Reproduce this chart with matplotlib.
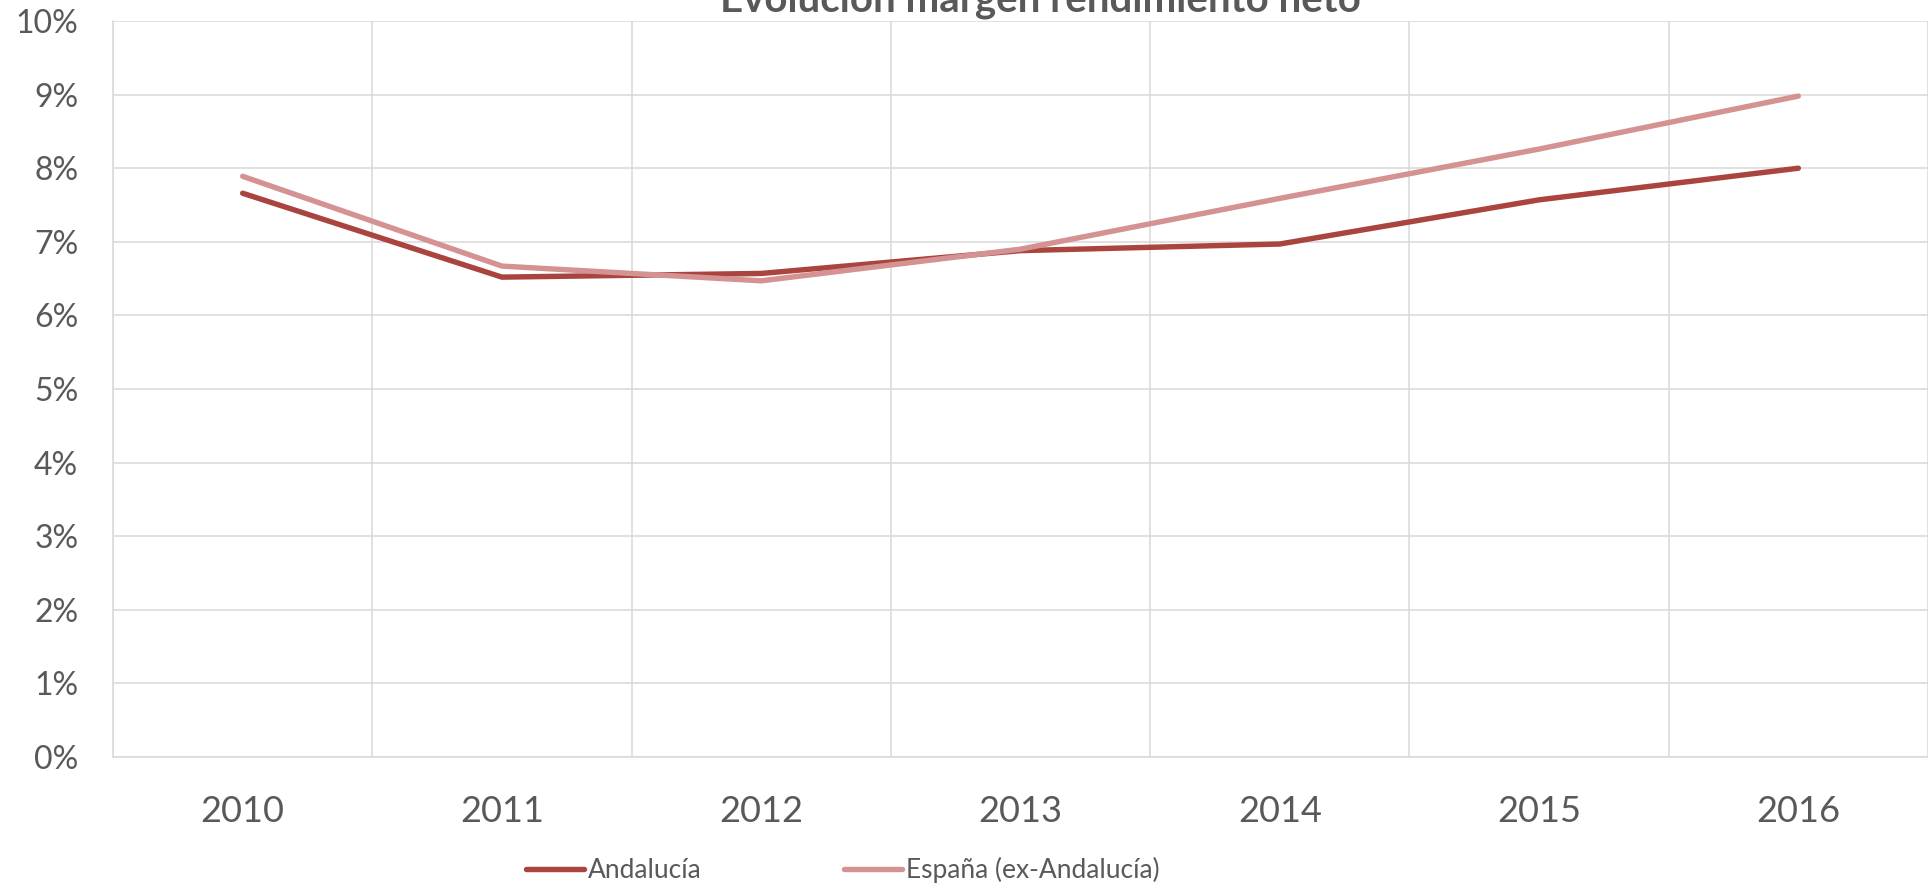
import matplotlib.pyplot as plt
import matplotlib.ticker as mtick

years = ["2010", "2011", "2012", "2013", "2014", "2015", "2016"]
andalucia = [7.66, 6.52, 6.57, 6.88, 6.97, 7.57, 8.00]
espana = [7.89, 6.67, 6.47, 6.90, 7.59, 8.26, 8.98]

grey = "#595959"
grid_c = "#D9D9D9"
plt.rcParams["font.family"] = ["Lato", "DejaVu Sans"]

fig = plt.figure(figsize=(19.28, 8.86), dpi=100)
ax = fig.add_axes([113 / 1928, 1 - 757 / 886, 1 - 113 / 1928, (757 - 21) / 886])

x = [i + 0.5 for i in range(len(years))]
ax.plot(x, andalucia, color="#A9443F", lw=3.9, solid_capstyle="round",
        solid_joinstyle="round", label="Andalucía", zorder=3)
ax.plot(x, espana, color="#D49392", lw=3.9, solid_capstyle="round",
        solid_joinstyle="round", label="España (ex-Andalucía)", zorder=3)

ax.set_xlim(0, len(years))
ax.set_ylim(0, 10)
ax.set_yticks(range(0, 11))
ax.yaxis.set_major_formatter(mtick.PercentFormatter(decimals=0))
ax.set_xticks(x)
ax.set_xticklabels(years)
ax.set_xticks(range(0, len(years) + 1), minor=True)

# gridlines: horizontal at each percent, vertical between categories
ax.grid(axis="y", which="major", color=grid_c, lw=1.1)
ax.grid(axis="x", which="minor", color=grid_c, lw=1.1)
ax.grid(axis="x", which="major", visible=False)
ax.set_axisbelow(True)

for side in ["top", "right"]:
    ax.spines[side].set_visible(False)
for side in ["left", "bottom"]:
    ax.spines[side].set_color(grid_c)
    ax.spines[side].set_linewidth(1.1)

ax.tick_params(axis="y", length=0, pad=25, labelsize=23, labelcolor=grey)
ax.tick_params(axis="x", which="both", length=0, pad=27, labelsize=26, labelcolor=grey)

# title sits at the very top edge, only its lower part shows
fig.text(1040 / 1928, 1 - 11.5 / 886, "Evolución margen rendimiento neto",
         ha="center", va="baseline", fontsize=29, fontweight="bold", color=grey)

leg = fig.legend(loc="center", bbox_to_anchor=(843 / 1928, 1 - 870 / 886), ncol=2,
                 frameon=False, fontsize=19, handlelength=2.2, handletextpad=0.15,
                 columnspacing=5.4, borderpad=0, borderaxespad=0)
for t in leg.get_texts():
    t.set_color(grey)

fig.savefig("out.png", dpi=100)
